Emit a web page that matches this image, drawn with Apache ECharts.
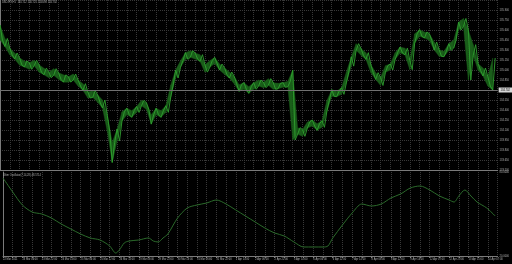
<!DOCTYPE html>
<html><head><meta charset="utf-8">
<script src="https://cdn.jsdelivr.net/npm/echarts@6/dist/echarts.min.js"></script>
<style>html,body{margin:0;padding:0;background:#000}#c{width:512px;height:264px}</style>
</head><body><div id="c"></div>
<script>
const symbolTitle = 'USDJPY,H1  134.712 134.725 134.698 134.702';
const oscTitle = 'Ultim Oscillator(7,14,28) 48.5714';
const timeLabels = ['22 Mar 2021','23 Mar 06:00','23 Mar 22:00','24 Mar 14:00','25 Mar 06:00','25 Mar 22:00','26 Mar 14:00','29 Mar 06:00','29 Mar 22:00','30 Mar 14:00','31 Mar 06:00','31 Mar 22:00','1 Apr 14:00','2 Apr 06:00','2 Apr 22:00','5 Apr 14:00','6 Apr 06:00','6 Apr 22:00','7 Apr 14:00','8 Apr 06:00','8 Apr 22:00','9 Apr 14:00','12 Apr 07:00','12 Apr 23:00','13 Apr 15:00','14 Apr 07:00'];
const totalBars = 408;
const barStep = 4;
const highs = [135.675,135.473,135.328,135.255,135.183,135.135,135.110,135.145,135.078,135.028,134.965,135.020,134.960,134.928,134.898,134.940,134.850,134.795,134.670,134.690,134.628,134.550,134.318,133.913,134.115,134.373,134.428,134.390,134.453,134.545,134.510,134.328,134.428,134.390,134.465,134.775,135.000,135.140,135.260,135.290,135.255,135.230,135.078,135.140,135.188,135.090,135.035,134.970,134.905,134.780,134.810,134.750,134.810,134.850,134.815,134.870,134.810,134.800,134.810,134.830,135.000,134.135,134.105,134.220,134.250,134.195,134.240,134.540,134.705,134.680,134.735,134.968,135.198,135.395,135.320,135.260,135.083,134.960,134.888,135.065,135.090,135.260,135.345,135.328,135.145,135.543,135.605,135.570,135.545,135.420,135.305,135.280,135.395,135.450,135.720,135.773,135.600,135.380,135.095,135.030,134.898,135.180];
const lows = [135.450,135.353,135.228,135.165,135.073,135.045,135.010,135.065,134.968,134.928,134.885,134.920,134.860,134.818,134.818,134.850,134.760,134.695,134.580,134.590,134.518,134.430,134.078,133.613,133.935,134.233,134.328,134.290,134.363,134.465,134.410,134.188,134.328,134.290,134.365,134.595,134.880,135.040,135.160,135.190,135.165,135.130,134.968,135.040,135.098,135.000,134.935,134.880,134.795,134.680,134.710,134.650,134.710,134.760,134.735,134.770,134.710,134.720,134.740,134.750,133.950,134.035,134.005,134.130,134.160,134.095,134.140,134.380,134.605,134.600,134.635,134.808,135.058,135.295,135.220,135.160,134.963,134.860,134.768,134.965,135.000,135.160,135.255,135.228,135.005,135.403,135.505,135.480,135.445,135.300,135.205,135.200,135.295,135.330,135.600,135.653,134.850,135.220,134.995,134.910,134.758,134.700];
const lastClose = 134.702;
const oscBars = [0,8,16,24,32,40,48,56,64,72,80,88,93,96,100,104,112,120,124,128,132,136,144,152,160,168,176,184,192,200,208,216,224,232,240,248,256,264,268,272,280,288,296,304,312,320,328,336,344,352,360,368,372,376,381,386,391,399,406];
const oscValues = [75.71,65.71,56.43,51.43,50.00,47.14,42.86,39.29,35.71,32.86,31.43,27.14,22.14,24.29,29.29,30.71,31.43,32.86,30.71,30.00,32.86,35.71,47.14,54.29,56.43,57.86,60.00,57.14,52.86,48.57,44.29,40.00,36.43,34.29,30.00,26.43,26.43,26.43,27.14,32.86,42.14,50.71,57.14,55.71,57.14,61.43,64.29,68.57,70.00,67.14,62.86,60.00,58.57,62.86,67.14,62.86,58.57,54.29,48.57];
const priceMin = 133.50, priceMax = 136.05, priceStep = 0.15;
const oscMin = 20, oscMax = 80;

// zig-zag through each sample's low/high (bar texture)
const mainData = [];
highs.forEach((h, i) => {
  const b = i * barStep, l = lows[i];
  if (i % 2 === 0) { mainData.push([b, h], [b + 2, l]); }
  else { mainData.push([b, l], [b + 2, h]); }
});
// band segments between consecutive samples
const bandData = [];
for (let i = 0; i < highs.length - 1; i++) {
  bandData.push([i * barStep, highs[i], lows[i], (i + 1) * barStep, highs[i + 1], lows[i + 1]]);
}
const oscData = oscBars.map((b, i) => [b, oscValues[i]]);

const FONT = 'Liberation Sans';
const FS = 2.6;
const txt = '#b0b0b0';
const gridLine = { show: true, lineStyle: { color: '#383838', type: 'dotted', width: 1 } };

const chart = echarts.init(document.getElementById('c'), null, { renderer: 'canvas' });
chart.setOption({
  backgroundColor: '#000',
  animation: false,
  title: [
    { text: symbolTitle, left: 2, top: 1, padding: 0, textStyle: { fontSize: FS, color: txt, fontWeight: 'normal', fontFamily: FONT } },
    { text: oscTitle, left: 3, top: 174, padding: 0, textStyle: { fontSize: FS, color: txt, fontWeight: 'normal', fontFamily: FONT } }
  ],
  grid: [
    { left: 0, right: 14, top: 0, height: 170 },
    { left: 0, right: 14, top: 172, height: 84 }
  ],
  xAxis: [
    { type: 'value', gridIndex: 0, min: 0, max: totalBars, interval: 8,
      axisLabel: { show: false }, axisTick: { show: false },
      axisLine: { show: true, lineStyle: { color: '#7a7a7a', width: 1 } },
      splitLine: gridLine },
    { type: 'value', gridIndex: 1, min: 0, max: totalBars, interval: 8,
      axisLine: { show: true, lineStyle: { color: '#7a7a7a', width: 1 } },
      axisTick: { show: true, length: 2, lineStyle: { color: '#7a7a7a' } },
      axisLabel: { show: true, fontSize: FS, color: txt, fontFamily: FONT, margin: 2, align: 'left',
        showMinLabel: true, showMaxLabel: false,
        formatter: v => (v % 16 === 0 && timeLabels[v / 16] !== undefined) ? timeLabels[v / 16] : '' },
      splitLine: gridLine }
  ],
  yAxis: [
    { type: 'value', gridIndex: 0, position: 'right', min: priceMin, max: priceMax, interval: priceStep,
      axisLine: { show: true, lineStyle: { color: '#7a7a7a', width: 1 } },
      axisTick: { show: true, length: 1, lineStyle: { color: '#7a7a7a' } },
      axisLabel: { fontSize: FS, color: txt, fontFamily: FONT, margin: 2, showMaxLabel: false,
        formatter: v => v.toFixed(3) },
      splitLine: gridLine },
    { type: 'value', gridIndex: 1, position: 'right', min: oscMin, max: oscMax, interval: 10,
      axisLine: { show: true, lineStyle: { color: '#7a7a7a', width: 1 } },
      axisTick: { show: false },
      axisLabel: { fontSize: FS, color: txt, fontFamily: FONT, margin: 2,
        formatter: v => (v === oscMin || v === oscMax) ? v.toFixed(4) : '' },
      splitLine: { show: false } }
  ],
  series: [
    { type: 'custom', xAxisIndex: 0, yAxisIndex: 0, data: bandData, silent: true,
      encode: { x: [0, 3], y: [1, 2, 4, 5] },
      renderItem: (params, api) => {
        const p = [api.coord([api.value(0), api.value(1)]), api.coord([api.value(3), api.value(4)]),
                   api.coord([api.value(3), api.value(5)]), api.coord([api.value(0), api.value(2)])];
        return { type: 'polygon', shape: { points: p }, style: { fill: '#1a5e1a', stroke: '#1a5e1a', lineWidth: 0.4 } };
      } },
    { type: 'line', xAxisIndex: 0, yAxisIndex: 0, data: mainData, showSymbol: false, symbol: 'none',
      lineStyle: { color: '#30a030', width: 0.9 }, silent: true,
      markLine: { silent: true, symbol: 'none',
        lineStyle: { color: '#707070', type: 'solid', width: 1 },
        label: { position: 'end', formatter: lastClose.toFixed(3), backgroundColor: '#d8d8d8', color: '#000',
          fontSize: FS, fontFamily: FONT, padding: [1, 2], distance: 1 },
        data: [{ yAxis: lastClose }] } },
    { type: 'line', xAxisIndex: 1, yAxisIndex: 1, data: oscData, showSymbol: false, symbol: 'none',
      smooth: 0.3, lineStyle: { color: '#2b6a2b', width: 1 }, silent: true }
  ]
});
</script></body></html>
